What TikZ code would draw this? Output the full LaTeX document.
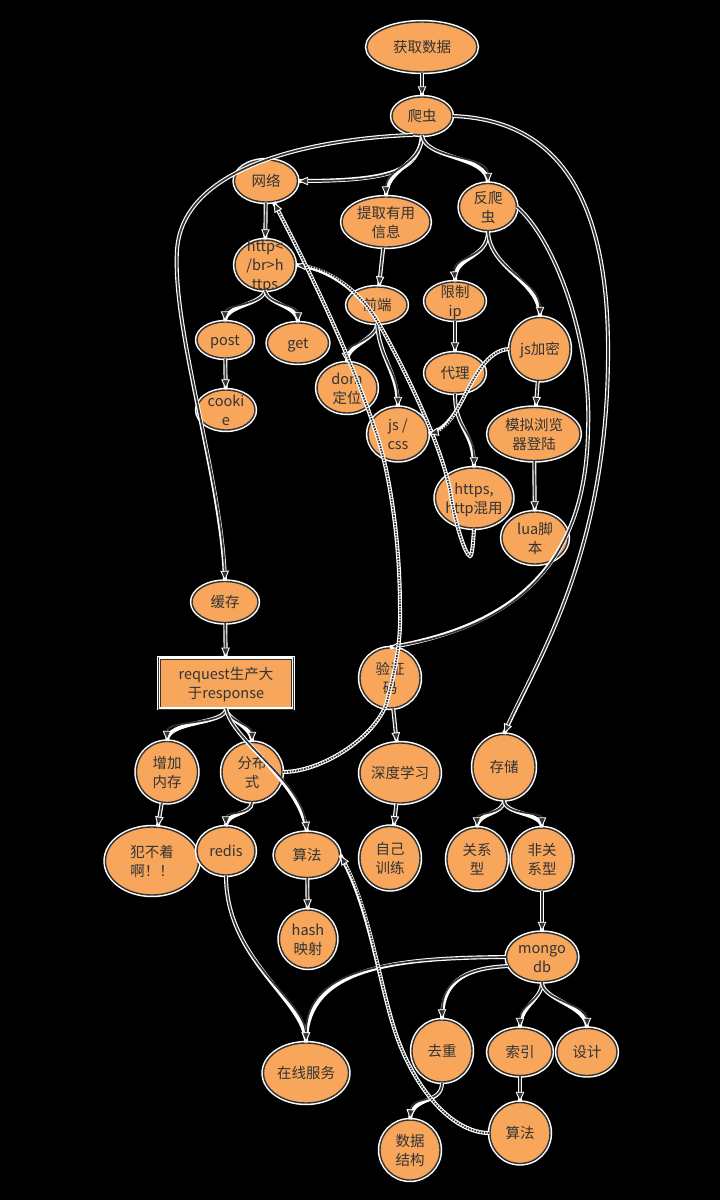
\documentclass[tikz,border=0pt]{standalone}
\usepackage{fontspec}
\setmainfont{Noto Sans CJK SC}
\usetikzlibrary{shapes.geometric,arrows.meta}
\definecolor{ndfill}{RGB}{247,166,92}
\definecolor{lnc}{RGB}{51,51,51}
% text of a node, kept out of the size of the node
\newcommand\ml[1]{\makebox[0pt]{\raisebox{-.38em}[0pt][0pt]{\begin{tabular}{@{}c@{}}#1\end{tabular}}}}

\begin{document}
\begin{tikzpicture}[x=1pt,y=-1pt,
	nd/.style 2 args={ellipse,fill=ndfill,draw=lnc,line width=1.4pt,inner sep=0pt,
		minimum width=#1pt,minimum height=#2pt,text=lnc,
		font=\fontsize{14.5}{19}\selectfont,preaction={draw=white,line width=4.4pt}},
	arr/.style={draw=lnc,line width=1.7pt,
		-{Triangle[length=10pt,width=8.5pt,color=white,fill=lnc,line width=0.9pt]},
		preaction={draw=white,line width=4pt,solid,-}},
	dot/.style={arr,densely dotted}]
		\fill[black] (0,0) rectangle (720,1200);

		% Nodes
		\node[nd={110}{50}] (hq) at (422,47) {\ml{获取数据}};
		\node[nd={60}{38}] (pc) at (422,116) {\ml{爬虫}};
		\node[nd={63}{42}] (wl) at (266,181) {\ml{网络}};
		\node[nd={88}{50}] (tq) at (386,222) {\ml{提取有用\\信息}};
		\node[nd={57}{47}] (fp) at (488,207) {\ml{反爬\\虫}};
		\node[nd={60}{50}] (hb) at (265,265) {\ml{http<\\/br>h\\ttps}};
		\node[nd={60}{36}] (qd) at (377,305) {\ml{前端}};
		\node[nd={60}{38}] (xz) at (455,301) {\ml{限制\\ip}};
		\node[nd={56}{36}] (po) at (225,340) {\ml{post}};
		\node[nd={61}{40}] (ge) at (298,343) {\ml{get}};
		\node[nd={60}{63}] (jm) at (540,349) {\ml{js加密}};
		\node[nd={60}{40}] (dl) at (455,373) {\ml{代理}};
		\node[nd={60}{50}] (dw) at (347,388) {\ml{dom\\定位}};
		\node[nd={58}{40}] (ck) at (226,410) {\ml{cooki\\e}};
		\node[nd={60}{53}] (jc) at (398,434) {\ml{js /\\css}};
		\node[nd={92}{53}] (mn) at (534,434) {\ml{模拟浏览\\器登陆}};
		\node[nd={77}{60}] (hh) at (474,498) {\ml{https,\\http混用}};
		\node[nd={66}{52}] (lj) at (535,538) {\ml{lua脚\\本}};
		\node[nd={66}{41}] (hc) at (225,602) {\ml{缓存}};
		\node[nd={133}{50},rectangle,line width=0.9pt,double=white,double distance=1.2pt,
			preaction={draw=white,line width=2pt}] (rq) at (226,683) {\ml{request生产大\\于response}};
		\node[nd={60}{60}] (yz) at (390,678) {\ml{验证\\码}};
		\node[nd={61}{61}] (zj) at (167,772) {\ml{增加\\内存}};
		\node[nd={60}{59}] (fb) at (252,772) {\ml{分布\\式}};
		\node[nd={80}{60}] (sd) at (400,773) {\ml{深度学习}};
		\node[nd={62}{65}] (cc) at (504,767) {\ml{存储}};
		\node[nd={93}{68}] (fz) at (152,861) {\ml{犯不着\\啊！！}};
		\node[nd={58}{48}] (rd) at (226,851) {\ml{redis}};
		\node[nd={65}{45}] (sa) at (307,855) {\ml{算法}};
		\node[nd={60}{63}] (zx) at (390,858) {\ml{自己\\训练}};
		\node[nd={60}{62}] (gx) at (477,859) {\ml{关系\\型}};
		\node[nd={61}{62}] (fg) at (542,859) {\ml{非关\\系型}};
		\node[nd={57}{58}] (hs) at (308,939) {\ml{hash\\映射}};
		\node[nd={71}{49}] (mg) at (542,957) {\ml{mongo\\db}};
		\node[nd={85}{60}] (zf) at (306,1073) {\ml{在线服务}};
		\node[nd={60}{62}] (qc) at (442,1051) {\ml{去重}};
		\node[nd={64}{47}] (sy) at (520,1052) {\ml{索引}};
		\node[nd={60}{47}] (sj) at (587,1052) {\ml{设计}};
		\node[nd={60}{60}] (sg) at (410,1150) {\ml{数据\\结构}};
		\node[nd={60}{61}] (sb) at (520,1133) {\ml{算法}};

		% Straight links
		\foreach \a/\b in {hq/pc,wl/hb,po/ck,tq/qd,xz/dl,jm/mn,mn/lj,hc/rq,yz/sd,sd/zx,zj/fz,sa/hs,fg/mg,sy/sb}
			\draw[arr] (\a) -- (\b);

		% Curved links
		\draw[arr] (pc.south) .. controls (418,170) and (395,181) .. (wl.east);
		\draw[arr] (pc.south) .. controls (422,165) and (386,168) .. (tq.north);
		\draw[arr] (pc.south) .. controls (426,160) and (488,155) .. (fp.north);
		\draw[arr] (pc.-115) .. controls (330,138) and (183,160) .. (177,250) .. controls (172,330) and (222,480) .. (hc.north);
		\draw[arr] (pc.east) .. controls (560,120) and (610,200) .. (608,360) .. controls (606,560) and (534,665) .. (cc.north);
		\draw[arr] (fp.east) .. controls (555,240) and (592,340) .. (588,430) .. controls (586,560) and (520,625) .. (yz.north);
		\draw[arr] (hb.south) .. controls (262,305) and (225,305) .. (po.north);
		\draw[arr] (hb.south) .. controls (268,305) and (298,305) .. (ge.north);
		\draw[arr] (qd.south) .. controls (377,340) and (345,345) .. (dw.north);
		\draw[arr] (qd.south) .. controls (380,360) and (398,372) .. (jc.north);
		\draw[arr] (fp.south) .. controls (488,260) and (453,255) .. (xz.north);
		\draw[arr] (fp.south) .. controls (490,270) and (540,280) .. (jm.north);
		\draw[arr] (dl.south) .. controls (455,430) and (474,430) .. (hh.north);
		\draw[arr] (rq.south) .. controls (226,725) and (167,720) .. (zj.north);
		\draw[arr] (rq.south) .. controls (226,720) and (252,725) .. (fb.north);
		\draw[arr] (rq.south) .. controls (232,740) and (300,780) .. (sa.north);
		\draw[arr] (fb.south) .. controls (252,815) and (226,812) .. (rd.north);
		\draw[arr] (rd.south) .. controls (226,960) and (305,1000) .. (zf.north);
		\draw[arr] (mg.west) .. controls (400,958) and (306,965) .. (zf.north);
		\draw[arr] (cc.south) .. controls (504,815) and (477,812) .. (gx.north);
		\draw[arr] (cc.south) .. controls (504,815) and (542,812) .. (fg.north);
		\draw[arr] (mg.-165) .. controls (460,968) and (442,985) .. (qc.north);
		\draw[arr] (mg.south) .. controls (542,1000) and (520,1005) .. (sy.north);
		\draw[arr] (mg.south) .. controls (542,1000) and (587,1005) .. (sj.north);
		\draw[arr] (qc.south) .. controls (442,1105) and (412,1095) .. (sg.north);

		% Dotted links
		\draw[dot] (hh.south) .. controls (473,545) and (472,556) .. (470,556) .. controls (466,556) and (455,525) .. (450,490) .. controls (440,440) and (400,360) .. (378,322) .. controls (360,292) and (330,268) .. (hb.east);
		\draw[dot] (fb.east) .. controls (320,772) and (372,740) .. (386,705) .. controls (395,670) and (401,645) .. (400,610) .. controls (400,540) and (390,480) .. (380,445) .. controls (360,380) and (325,300) .. (wl.-70);
		\draw[dot] (jm.west) .. controls (490,350) and (478,370) .. (465,395) .. controls (455,415) and (445,430) .. (jc.east);
		\draw[dot] (sb.west) .. controls (455,1133) and (420,1095) .. (400,1045) .. controls (380,995) and (372,910) .. (sa.east);
		
		\end{tikzpicture}
\end{document}
